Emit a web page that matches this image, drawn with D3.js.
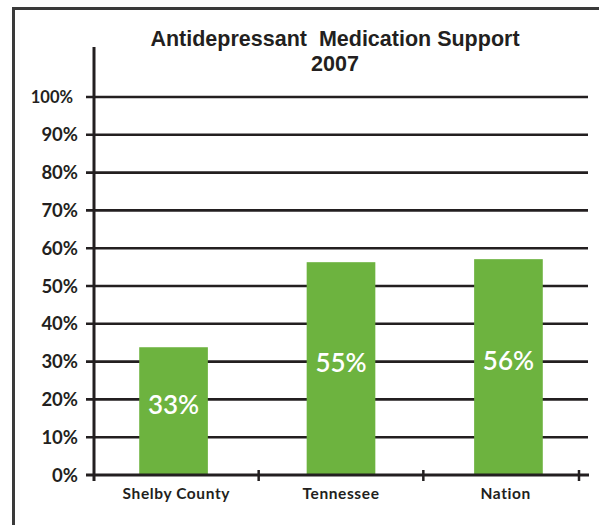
<!DOCTYPE html>
<html>
<head>
<meta charset="utf-8">
<script src="https://cdn.jsdelivr.net/npm/d3@7/dist/d3.min.js"></script>
<style>
  html, body { margin: 0; padding: 0; background: #fff; }
  svg { display: block; }
</style>
</head>
<body>
<svg id="chart" width="599" height="525"></svg>
<script>
// ---- data ----
const categories = ["Shelby County", "Tennessee", "Nation"];
const barValues = [33.8, 56.3, 57.1];          // bar heights as drawn
const barLabels = ["33%", "55%", "56%"];        // printed labels
const yTicks = [0, 10, 20, 30, 40, 50, 60, 70, 80, 90, 100];
const titleLines = ["Antidepressant  Medication Support", "2007"];

(function () {
// ---- layout ----
const svg = d3.select("#chart");
const mLeft = 94, mRight = 588, mTop = 97, mBottom = 475;
const ink = "#231f20";
const green = "#6db33f";

// outer frame (partially cropped)
svg.append("rect")
  .attr("x", 13.5).attr("y", 8.5)
  .attr("width", 620).attr("height", 560)
  .attr("fill", "none").attr("stroke", "#3a3a3a").attr("stroke-width", 3);

const x = d3.scaleBand().domain(categories).range([mLeft, mRight]).paddingInner(0.59).paddingOuter(0.27);
const xStep = d3.scaleBand().domain(categories).range([mLeft, mRight]);
const y = d3.scaleLinear().domain([0, 100]).range([mBottom, mTop]);

// gridlines
svg.append("g").selectAll("line").data(yTicks.filter(d => d > 0)).join("line")
  .attr("x1", mLeft - 8).attr("x2", 588)
  .attr("y1", d => y(d)).attr("y2", d => y(d))
  .attr("stroke", ink).attr("stroke-width", 2.6);

// y tick labels
svg.append("g").selectAll("text").data(yTicks).join("text")
  .attr("x", d => d === 100 ? 73 : 78)
  .attr("y", d => y(d))
  .attr("dy", "0.36em")
  .attr("text-anchor", "end")
  .attr("font-family", "Lato, 'DejaVu Sans', sans-serif")
  .attr("font-weight", 700)
  .attr("font-size", d => d === 100 ? 16.5 : 18.5)
  .attr("fill", ink)
  .text(d => d + "%");

// bars
svg.append("g").selectAll("rect").data(categories).join("rect")
  .attr("x", d => x(d))
  .attr("width", x.bandwidth())
  .attr("y", (d, i) => y(barValues[i]))
  .attr("height", (d, i) => y(0) - y(barValues[i]))
  .attr("fill", green);

// bar labels
svg.append("g").selectAll("text").data(categories).join("text")
  .attr("x", d => x(d) + x.bandwidth() / 2)
  .attr("y", (d, i) => (y(barValues[i]) + y(0)) / 2 - 6)
  .attr("dy", "0.36em")
  .attr("text-anchor", "middle")
  .attr("font-family", "Lato, 'DejaVu Sans', sans-serif")
  .attr("font-weight", 600)
  .attr("font-size", 26)
  .attr("fill", "#fff")
  .text((d, i) => barLabels[i]);

// y axis line
svg.append("line")
  .attr("x1", mLeft).attr("x2", mLeft)
  .attr("y1", 47).attr("y2", 481)
  .attr("stroke", ink).attr("stroke-width", 3);

// x axis line
svg.append("line")
  .attr("x1", mLeft - 8).attr("x2", 589)
  .attr("y1", mBottom).attr("y2", mBottom)
  .attr("stroke", ink).attr("stroke-width", 3);

// x axis ticks at band boundaries
const tickXs = categories.map(c => xStep(c) + xStep.bandwidth());
tickXs[tickXs.length - 1] = 579;
svg.append("g").selectAll("line").data(tickXs).join("line")
  .attr("x1", d => d).attr("x2", d => d)
  .attr("y1", mBottom - 5).attr("y2", mBottom + 6)
  .attr("stroke", ink).attr("stroke-width", 2.5);

// x labels
svg.append("g").selectAll("text").data(categories).join("text")
  .attr("x", d => xStep(d) + xStep.bandwidth() / 2)
  .attr("y", 499)
  .attr("text-anchor", "middle")
  .attr("font-family", "Lato, 'DejaVu Sans', sans-serif")
  .attr("font-weight", 700)
  .attr("font-size", 15.5)
  .attr("letter-spacing", 0.6)
  .attr("fill", ink)
  .text(d => d);

// title
svg.append("g").selectAll("text").data(titleLines).join("text")
  .attr("x", 335)
  .attr("y", (d, i) => i === 0 ? 46 : 71)
  .attr("text-anchor", "middle")
  .attr("font-family", "'Liberation Sans', Arial, sans-serif")
  .attr("font-weight", 700)
  .attr("font-size", 21.5)
  .attr("fill", ink)
  .style("white-space", "pre")
  .text(d => d);
})();
</script>
</body>
</html>
